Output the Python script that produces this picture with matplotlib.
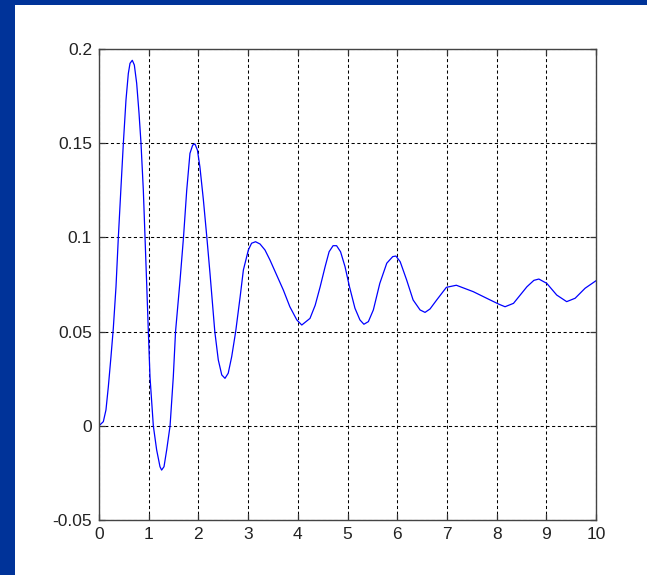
import matplotlib
matplotlib.use("Agg")
import matplotlib.pyplot as plt
from matplotlib.patches import Rectangle
from matplotlib import font_manager

# Step-response samples (time, amplitude)
t = [0.0, 0.087, 0.14, 0.188, 0.241, 0.288, 0.342, 0.389, 0.443, 0.49, 0.543, 0.59,
     0.624, 0.67, 0.711, 0.758, 0.805, 0.845, 0.892, 0.926, 0.959, 0.993, 1.026, 1.093,
     1.16, 1.227, 1.26, 1.308, 1.362, 1.43, 1.495, 1.54, 1.63, 1.70, 1.765, 1.83,
     1.885, 1.93, 1.98, 2.03, 2.10, 2.17, 2.233, 2.33, 2.40, 2.47, 2.535, 2.60,
     2.67, 2.75, 2.84, 2.905, 3.005, 3.07, 3.15, 3.24, 3.34, 3.44, 3.575, 3.71,
     3.84, 3.98, 4.08, 4.245, 4.35, 4.45, 4.55, 4.63, 4.71, 4.78, 4.86, 4.95,
     5.04, 5.15, 5.25, 5.33, 5.42, 5.52, 5.65, 5.79, 5.91, 5.975, 6.06, 6.19,
     6.32, 6.46, 6.56, 6.66, 6.795, 6.99, 7.19, 7.53, 7.87, 8.05, 8.17, 8.34,
     8.61, 8.75, 8.85, 9.01, 9.21, 9.41, 9.58, 9.78, 10.0]
y = [0.0, 0.0022, 0.0084, 0.0208, 0.0367, 0.0518, 0.0738, 0.100, 0.127, 0.150, 0.173, 0.187,
     0.1924, 0.194, 0.1915, 0.1818, 0.166, 0.150, 0.125, 0.100, 0.0756, 0.050, 0.026, 0.0,
     -0.0128, -0.0217, -0.0235, -0.0217, -0.0128, 0.0, 0.026, 0.050, 0.077, 0.100, 0.125, 0.1446,
     0.149, 0.1496, 0.1464, 0.1375, 0.120, 0.100, 0.081, 0.050, 0.035, 0.027, 0.0252, 0.0279,
     0.0367, 0.050, 0.0685, 0.0827, 0.0933, 0.0969, 0.0977, 0.0965, 0.0933, 0.088, 0.080, 0.072,
     0.0632, 0.0562, 0.0535, 0.057, 0.064, 0.0738, 0.0845, 0.0924, 0.0956, 0.0956, 0.0924, 0.0845,
     0.0738, 0.0624, 0.0562, 0.0539, 0.0553, 0.0615, 0.0756, 0.0863, 0.0898, 0.0901, 0.0871, 0.0774,
     0.0668, 0.0615, 0.0602, 0.062, 0.0668, 0.0735, 0.0746, 0.0712, 0.0668, 0.0645, 0.0632, 0.065,
     0.0738, 0.0772, 0.0779, 0.0756, 0.0694, 0.0659, 0.0677, 0.073, 0.077]

xticks = list(range(0, 11))
xtick_labels = [str(v) for v in xticks]
yticks = [-0.05, 0, 0.05, 0.1, 0.15, 0.2]
ytick_labels = ["-0.05", "0", "0.05", "0.1", "0.15", "0.2"]

installed = {f.name for f in font_manager.fontManager.ttflist}
family = ["Liberation Sans Narrow"] if "Liberation Sans Narrow" in installed else ["Liberation Sans"]
plt.rcParams["font.family"] = family + ["DejaVu Sans"]

W, H = 647, 575
fig = plt.figure(figsize=(W / 100, H / 100), dpi=100)
fig.patch.set_facecolor("white")

# slide frame bands
band = "#003399"
fig.patches.append(Rectangle((0, 0), 15 / W, 1, transform=fig.transFigure,
                             facecolor=band, edgecolor="none", zorder=0))
fig.patches.append(Rectangle((0, 1 - 5 / H), 1, 5 / H, transform=fig.transFigure,
                             facecolor=band, edgecolor="none", zorder=0))

ax = fig.add_axes([99 / W, 1 - 520 / H, (596 - 99) / W, (520 - 49) / H])
ax.plot(t, y, color="#0000ff", linewidth=0.9)

ax.set_xlim(0, 10)
ax.set_ylim(-0.05, 0.2)
ax.set_xticks(xticks)
ax.set_xticklabels(xtick_labels)
ax.set_yticks(yticks)
ax.set_yticklabels(ytick_labels)

ax.grid(True, color="black", linestyle=(0, (3, 2.5)), linewidth=0.75)
ax.tick_params(direction="in", length=4, width=0.9, top=True, right=True,
               labelsize=12.5, colors="#333333", labelcolor="#222222", pad=5)
for s in ax.spines.values():
    s.set_color("#444444")
    s.set_linewidth(1.0)

fig.savefig("out.png", dpi=100)
